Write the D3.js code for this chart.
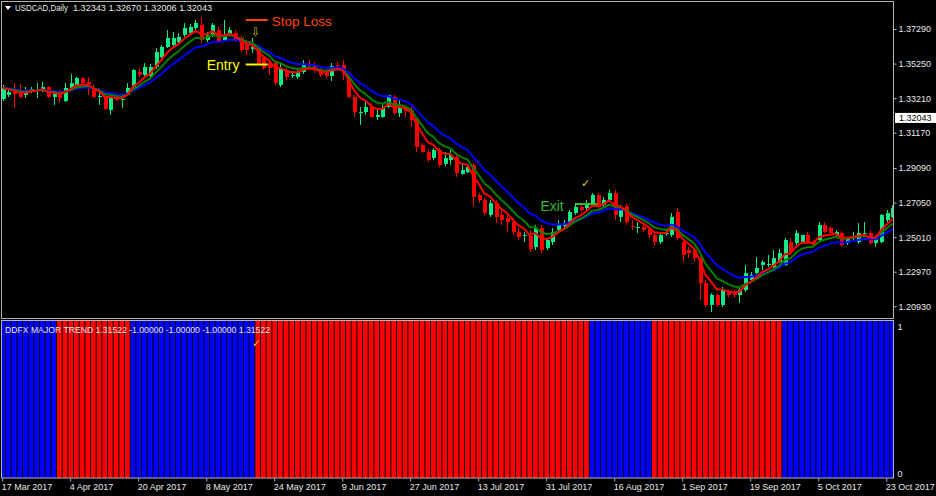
<!DOCTYPE html>
<html><head><meta charset="utf-8">
<script src="https://cdn.jsdelivr.net/npm/d3@7"></script>
<style>
html,body{margin:0;padding:0;background:#000;}
svg{display:block;}
</style></head><body>
<svg id="c" width="936" height="496"></svg>
<script>
// ---------------- DATA ----------------
const open = [
1.3316,1.3340,1.3357,1.3357,1.3340,1.3357,1.3369,1.3369,1.3387,1.3328,
1.3340,1.3304,1.3381,1.3399,1.3440,1.3416,1.3369,1.3328,1.3328,1.3251,
1.3334,1.3310,1.3340,1.3387,1.3475,1.3458,1.3452,1.3505,1.3564,1.3623,
1.3635,1.3652,1.3694,1.3705,1.3735,1.3753,1.3664,1.3694,1.3723,1.3664,
1.3694,1.3705,1.3676,1.3646,1.3611,1.3623,1.3558,1.3528,1.3528,1.3399,
1.3487,1.3452,1.3446,1.3475,1.3523,1.3517,1.3475,1.3475,1.3452,1.3517,
1.3517,1.3446,1.3328,1.3233,1.3239,1.3269,1.3210,1.3210,1.3269,1.3328,
1.3233,1.3263,1.3251,1.3204,1.3045,1.3003,1.2968,1.3015,1.2933,1.2956,
1.2974,1.2874,1.2885,1.2927,1.2750,1.2720,1.2632,1.2702,1.2632,1.2614,
1.2590,1.2531,1.2508,1.2508,1.2443,1.2555,1.2437,1.2472,1.2543,1.2567,
1.2584,1.2643,1.2679,1.2673,1.2691,1.2750,1.2691,1.2720,1.2761,1.2620,
1.2685,1.2567,1.2555,1.2561,1.2549,1.2514,1.2472,1.2520,1.2514,1.2649,
1.2472,1.2425,1.2425,1.2378,1.2230,1.2101,1.2160,1.2101,1.2177,1.2171,
1.2160,1.2189,1.2248,1.2289,1.2337,1.2337,1.2325,1.2354,1.2337,1.2472,
1.2466,1.2472,1.2514,1.2472,1.2484,1.2573,1.2555,1.2514,1.2525,1.2466,
1.2502,1.2472,1.2520,1.2525,1.2466,1.2472,1.2602,1.2620];
const high = [
1.3399,1.3369,1.3410,1.3405,1.3387,1.3387,1.3410,1.3416,1.3393,1.3351,
1.3369,1.3410,1.3464,1.3446,1.3446,1.3446,1.3399,1.3357,1.3351,1.3340,
1.3346,1.3340,1.3410,1.3493,1.3499,1.3528,1.3523,1.3617,1.3635,1.3723,
1.3711,1.3705,1.3764,1.3759,1.3782,1.3800,1.3711,1.3764,1.3741,1.3782,
1.3741,1.3723,1.3688,1.3664,1.3676,1.3635,1.3576,1.3540,1.3546,1.3523,
1.3499,1.3481,1.3487,1.3546,1.3546,1.3534,1.3499,1.3499,1.3528,1.3534,
1.3546,1.3469,1.3340,1.3269,1.3310,1.3292,1.3263,1.3292,1.3340,1.3340,
1.3310,1.3275,1.3269,1.3210,1.3056,1.3015,1.3027,1.3027,1.3003,1.3015,
1.2986,1.2938,1.2927,1.2938,1.2761,1.2732,1.2720,1.2720,1.2661,1.2643,
1.2614,1.2555,1.2531,1.2543,1.2573,1.2573,1.2496,1.2555,1.2602,1.2602,
1.2661,1.2702,1.2697,1.2720,1.2761,1.2761,1.2738,1.2779,1.2779,1.2691,
1.2697,1.2602,1.2590,1.2579,1.2567,1.2531,1.2525,1.2543,1.2643,1.2673,
1.2484,1.2443,1.2437,1.2390,1.2248,1.2171,1.2171,1.2207,1.2189,1.2189,
1.2207,1.2337,1.2295,1.2384,1.2366,1.2396,1.2425,1.2431,1.2496,1.2496,
1.2543,1.2514,1.2531,1.2484,1.2590,1.2590,1.2567,1.2543,1.2537,1.2502,
1.2531,1.2584,1.2590,1.2543,1.2496,1.2638,1.2661,1.2691];
const low = [
1.3304,1.3328,1.3263,1.3322,1.3322,1.3351,1.3322,1.3357,1.3322,1.3281,
1.3292,1.3298,1.3375,1.3393,1.3399,1.3340,1.3322,1.3281,1.3251,1.3222,
1.3304,1.3263,1.3334,1.3375,1.3446,1.3452,1.3440,1.3493,1.3558,1.3617,
1.3629,1.3641,1.3682,1.3700,1.3723,1.3646,1.3652,1.3682,1.3646,1.3652,
1.3688,1.3652,1.3593,1.3576,1.3587,1.3517,1.3487,1.3458,1.3399,1.3387,
1.3428,1.3440,1.3434,1.3464,1.3499,1.3469,1.3446,1.3440,1.3422,1.3499,
1.3428,1.3322,1.3210,1.3163,1.3222,1.3204,1.3192,1.3204,1.3263,1.3222,
1.3210,1.3210,1.3151,1.3003,1.2997,1.2944,1.2956,1.2915,1.2921,1.2927,
1.2856,1.2868,1.2879,1.2679,1.2702,1.2632,1.2620,1.2584,1.2573,1.2531,
1.2514,1.2484,1.2472,1.2413,1.2425,1.2407,1.2425,1.2455,1.2531,1.2549,
1.2579,1.2632,1.2649,1.2661,1.2679,1.2661,1.2679,1.2714,1.2602,1.2590,
1.2573,1.2543,1.2525,1.2531,1.2496,1.2455,1.2461,1.2508,1.2502,1.2484,
1.2354,1.2378,1.2354,1.2130,1.2089,1.2059,1.2089,1.2089,1.2148,1.2142,
1.2112,1.2177,1.2236,1.2278,1.2307,1.2325,1.2319,1.2348,1.2331,1.2402,
1.2455,1.2461,1.2461,1.2443,1.2478,1.2525,1.2520,1.2496,1.2443,1.2455,
1.2484,1.2461,1.2508,1.2455,1.2443,1.2466,1.2590,1.2614];
const close = [
1.3381,1.3357,1.3346,1.3328,1.3357,1.3375,1.3375,1.3387,1.3328,1.3346,
1.3322,1.3381,1.3410,1.3440,1.3410,1.3405,1.3328,1.3334,1.3257,1.3328,
1.3310,1.3316,1.3381,1.3487,1.3458,1.3505,1.3505,1.3593,1.3623,1.3676,
1.3676,1.3682,1.3735,1.3741,1.3764,1.3664,1.3694,1.3753,1.3652,1.3682,
1.3723,1.3664,1.3605,1.3605,1.3623,1.3528,1.3499,1.3499,1.3410,1.3499,
1.3446,1.3458,1.3475,1.3517,1.3511,1.3487,1.3458,1.3452,1.3511,1.3511,
1.3469,1.3328,1.3239,1.3239,1.3269,1.3210,1.3222,1.3263,1.3340,1.3233,
1.3269,1.3245,1.3192,1.3033,1.3003,1.2956,1.3015,1.2927,1.2968,1.2986,
1.2879,1.2897,1.2915,1.2738,1.2720,1.2643,1.2702,1.2620,1.2602,1.2590,
1.2531,1.2502,1.2514,1.2431,1.2555,1.2425,1.2484,1.2531,1.2579,1.2584,
1.2649,1.2679,1.2661,1.2702,1.2750,1.2679,1.2720,1.2761,1.2632,1.2673,
1.2590,1.2561,1.2561,1.2543,1.2514,1.2472,1.2514,1.2525,1.2620,1.2496,
1.2396,1.2407,1.2378,1.2230,1.2101,1.2160,1.2101,1.2189,1.2160,1.2160,
1.2189,1.2289,1.2278,1.2319,1.2354,1.2343,1.2378,1.2407,1.2484,1.2413,
1.2525,1.2514,1.2472,1.2455,1.2573,1.2531,1.2525,1.2531,1.2455,1.2496,
1.2508,1.2525,1.2525,1.2466,1.2496,1.2632,1.2643,1.2673];
// DDFX Major Trend direction per bar: 1 = up (blue), -1 = down (red)
const trend = [
 1, 1, 1, 1, 1, 1, 1, 1, 1, 1,
-1,-1,-1,-1,-1,-1,-1,-1,-1,-1,-1,-1,-1,
 1, 1, 1, 1, 1, 1, 1, 1, 1, 1, 1, 1, 1, 1, 1, 1, 1, 1, 1, 1, 1, 1,
-1,-1,-1,-1,-1,-1,-1,-1,-1,-1,-1,-1,-1,-1,-1,-1,-1,-1,-1,-1,
-1,-1,-1,-1,-1,-1,-1,-1,-1,-1,-1,-1,-1,-1,-1,-1,-1,-1,-1,-1,
-1,-1,-1,-1,-1,-1,-1,-1,-1,-1,-1,-1,-1,-1,-1,-1,-1,-1,-1,
 1, 1, 1, 1, 1, 1, 1, 1, 1, 1, 1,
-1,-1,-1,-1,-1,-1,-1,-1,-1,-1,-1,-1,-1,-1,-1,-1,-1,-1,-1,-1,-1,-1,-1,
 1, 1, 1, 1, 1, 1, 1, 1, 1, 1, 1, 1, 1, 1, 1, 1, 1, 1, 1, 1];
const tickBars   = [0,12,24,36,48,60,72,84,96,108,120,132,144,156];
const tickLabels = ["17 Mar 2017","4 Apr 2017","20 Apr 2017","8 May 2017","24 May 2017","9 Jun 2017","27 Jun 2017",
                    "13 Jul 2017","31 Jul 2017","16 Aug 2017","1 Sep 2017","19 Sep 2017","5 Oct 2017","23 Oct 2017"];
const priceTicks = [1.37290,1.35250,1.33210,1.31170,1.29090,1.27050,1.25010,1.22970,1.20930];
const maPeriods  = [13, 8, 5];             // blue, green, red
const maColors   = ["#0000ff","#008000","#ff0000"];
const headerSymbol = "USDCAD,Daily";
const headerPrices = "1.32343 1.32670 1.32006 1.32043";
const lastPrice  = 1.32043;
const indText    = "DDFX MAJOR TREND 1.31522 -1.00000 -1.00000 -1.00000 1.31522";
const entryBar = 45, exitBar = 100, checkBar = 102;

// ---------------- LAYOUT ----------------
const W = 936, H = 496;
const plotL = 1, plotR = 893, mainT = 1, mainB = 318, indT = 321, indB = 478;
const n = close.length;
const step = 5.667;
const FONT = "'Liberation Sans', Arial, sans-serif";
const FG = "#e8e8e8";
const upCol = "#10ec84", dnCol = "#ff0000";

const svg = d3.select("#c");
svg.append("rect").attr("width", W).attr("height", H).attr("fill", "#000");

const x = d3.scaleBand().domain(d3.range(n)).range([2.7 - step/2, 2.7 - step/2 + n*step]).paddingInner(0);
const cx = i => x(i) + x.bandwidth()/2;
const y = d3.scaleLinear().domain([1.20930, 1.37290]).range([306.3, 29]);
const yInd = d3.scaleLinear().domain([-0.03, 1.04]).range([indB, indT]);

const defs = svg.append("defs");
defs.append("clipPath").attr("id","clipMain").append("rect")
  .attr("x", plotL+1).attr("y", mainT+1).attr("width", plotR-plotL-1).attr("height", mainB-mainT-1);
defs.append("clipPath").attr("id","clipInd").append("rect")
  .attr("x", plotL+1).attr("y", indT).attr("width", plotR-plotL-1).attr("height", indB-indT);

// ---------------- MAIN: candles ----------------
const gMain = svg.append("g").attr("clip-path","url(#clipMain)");
const bars = d3.range(n);
const gC = gMain.append("g");
gC.selectAll("line.wick").data(bars).join("line")
  .attr("x1", i => Math.round(cx(i)) + 0.5).attr("x2", i => Math.round(cx(i)) + 0.5)
  .attr("y1", i => y(high[i])).attr("y2", i => y(low[i]))
  .attr("stroke", i => close[i] >= open[i] ? upCol : dnCol).attr("stroke-width", 1);
gC.selectAll("rect.body").data(bars).join("rect")
  .attr("x", i => Math.round(cx(i)) - 1)
  .attr("width", 4)
  .attr("y", i => Math.min(y(open[i]), y(close[i])))
  .attr("height", i => Math.max(1, Math.abs(y(open[i]) - y(close[i]))))
  .attr("fill", i => close[i] >= open[i] ? upCol : dnCol);

// moving averages (EMA of close)
function ema(vals, p){
  const k = 2/(p+1); const out = []; let prev = vals[0];
  vals.forEach((v,i) => { prev = i === 0 ? v : v*k + prev*(1-k); out.push(prev); });
  return out;
}
const line = d3.line().x((d,i) => cx(i)).y(d => y(d)).curve(d3.curveLinear);
maPeriods.forEach((p, k) => {
  gMain.append("path").datum(ema(close, p)).attr("d", line)
    .attr("fill","none").attr("stroke", maColors[k]).attr("stroke-width", 2)
    .attr("stroke-linejoin","round");
});

// ---------------- INDICATOR ----------------
const gInd = svg.append("g").attr("clip-path","url(#clipInd)");
gInd.selectAll("rect").data(bars).join("rect")
  .attr("x", i => x(i) + 0.5)
  .attr("width", x.bandwidth() - 1)
  .attr("y", yInd(yInd.domain()[1]))
  .attr("height", yInd(yInd.domain()[0]) - yInd(yInd.domain()[1]))
  .attr("fill", i => trend[i] > 0 ? "#0000ff" : "#ff0000");

// ---------------- FRAMES ----------------
const frame = svg.append("g").attr("fill","none").attr("stroke","#b4b4b4").attr("stroke-width",1);
frame.append("rect").attr("x", plotL+0.5).attr("y", mainT+0.5).attr("width", plotR-plotL).attr("height", mainB-mainT);
frame.append("rect").attr("x", plotL+0.5).attr("y", indT-0.5).attr("width", plotR-plotL).attr("height", indB-indT+0.5);

// ---------------- AXES ----------------
const axP = svg.append("g").attr("transform", `translate(${plotR+0.5},0)`)
  .call(d3.axisRight(y).tickValues(priceTicks).tickFormat(d3.format(".5f")).tickSize(3).tickPadding(2));
axP.select(".domain").remove();
axP.selectAll("line").attr("stroke","#b4b4b4");
axP.selectAll("text").attr("fill",FG).attr("font-family",FONT).attr("font-size",9);

const axI = svg.append("g").attr("transform", `translate(${plotR+0.5},0)`)
  .call(d3.axisRight(yInd).tickValues([1,0]).tickFormat(d3.format("d")).tickSize(0).tickPadding(4));
axI.select(".domain").remove();
axI.selectAll("text").attr("fill",FG).attr("font-family",FONT).attr("font-size",9);

const axD = svg.append("g").attr("transform", `translate(0,${indB+0.5})`)
  .call(d3.axisBottom(x).tickValues(tickBars).tickFormat(i => tickLabels[tickBars.indexOf(i)]).tickSize(3));
axD.select(".domain").remove();
axD.selectAll("line").attr("stroke","#b4b4b4");
axD.selectAll("text").attr("fill",FG).attr("font-family",FONT).attr("font-size",9)
  .attr("text-anchor","start").attr("x",-1).attr("y",11.5).attr("dy",0);

// current price marker
const lp = svg.append("g").attr("transform", `translate(${plotR+2},${y(lastPrice)})`);
lp.append("rect").attr("x",0).attr("y",-5).attr("width",41).attr("height",10).attr("fill","#fff");
lp.append("text").attr("x",4).attr("y",3.5).attr("fill","#000").attr("font-family",FONT).attr("font-size",9).text(d3.format(".5f")(lastPrice));

// ---------------- TEXTS ----------------
svg.append("path").attr("d","M5,6 L11,6 L8,10 Z").attr("fill","#fff");
svg.append("text").attr("x",15).attr("y",11).attr("fill",FG).attr("font-family",FONT).attr("font-size",9)
  .attr("textLength",53).attr("lengthAdjust","spacingAndGlyphs").text(headerSymbol);
svg.append("text").attr("x",73).attr("y",11).attr("fill",FG).attr("font-family",FONT).attr("font-size",9)
  .attr("textLength",139).attr("lengthAdjust","spacingAndGlyphs").text(headerPrices);
svg.append("text").attr("x",5).attr("y",333).attr("fill",FG).attr("font-family",FONT).attr("font-size",9)
  .attr("textLength",265).attr("lengthAdjust","spacingAndGlyphs").text(indText);

// annotations
const ex = cx(entryBar);
svg.append("line").attr("x1", ex-12).attr("x2", ex+10).attr("y1",20).attr("y2",20).attr("stroke","#ff4500").attr("stroke-width",2);
svg.append("text").attr("x", ex+14).attr("y",25.5).attr("fill","#ff4500").attr("font-family",FONT).attr("font-size",13.5).text("Stop Loss");
svg.append("text").attr("x", ex-2).attr("y",36).attr("text-anchor","middle").attr("fill","#b8b800").attr("font-family","'DejaVu Sans'").attr("font-size",12).text("⇩");
svg.append("line").attr("x1", ex-12).attr("x2", ex+10).attr("y1",64.5).attr("y2",64.5).attr("stroke","#ffff00").attr("stroke-width",2);
svg.append("text").attr("x", ex-51).attr("y",69.5).attr("fill","#ffff00").attr("font-family",FONT).attr("font-size",14).text("Entry");
const xx = cx(exitBar);
svg.append("line").attr("x1", xx+6).attr("x2", xx+28).attr("y1",204).attr("y2",204).attr("stroke","#33bb33").attr("stroke-width",2);
svg.append("text").attr("x", xx-29).attr("y",210.5).attr("fill","#33bb33").attr("font-family",FONT).attr("font-size",14).text("Exit");
svg.append("text").attr("x", cx(checkBar)+5).attr("y",187).attr("text-anchor","middle").attr("fill","#e8d000").attr("font-family","'DejaVu Sans'").attr("font-size",11).text("✓");
svg.append("text").attr("x", ex-1).attr("y",347).attr("text-anchor","middle").attr("fill","#e8d000").attr("font-family","'DejaVu Sans'").attr("font-size",11).text("✓");
</script>
</body></html>
